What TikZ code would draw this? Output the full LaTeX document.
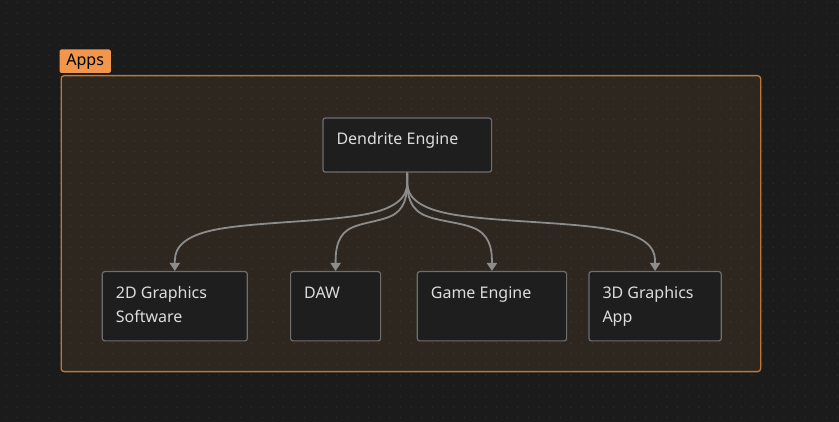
\documentclass[tikz,border=0pt]{standalone}
\usepackage{fontspec}
\setmainfont{Noto Sans}
\usetikzlibrary{arrows.meta, positioning, calc}
\definecolor{bgDark}{HTML}{1B1B1B}
\definecolor{groupFill}{HTML}{2D2720}
\definecolor{groupLine}{HTML}{BD773C}
\definecolor{labelFill}{HTML}{F2964C}
\definecolor{nodeFill}{HTML}{1E1E1E}
\definecolor{nodeLine}{HTML}{6E6E6E}
\definecolor{nodeText}{HTML}{DCDCDC}
\definecolor{linkGray}{HTML}{8C8C8C}

\begin{document}
\begin{tikzpicture}[x=1pt, y=-1pt,
    box/.style={draw=nodeLine, fill=nodeFill, rounded corners=2.5pt, line width=1.2pt,
        inner sep=0pt, anchor=north west},
    txt/.style={text=nodeText, font=\fontsize{16}{24}\selectfont, align=left,
        inner sep=0pt, anchor=north west},
    link/.style={draw=linkGray, line width=1.8pt, -{Triangle[width=10pt,length=8pt]}}]
    \useasboundingbox (0,0) rectangle (839,422);
    \fill[bgDark] (0,0) rectangle (839,422);

    % Group container
    \node[draw=groupLine, fill=groupFill, rounded corners=3pt, line width=1.3pt, inner sep=0pt,
        anchor=north west, minimum width=699.5pt, minimum height=296pt] (apps) at (60.5,75) {};

    % Dot grid
    \foreach \i in {0,...,78} {
        \foreach \j in {0,...,39} {
            \fill[white, fill opacity=0.07] (6.5+\i*10.65, 2.5+\j*10.65) circle (0.8pt);
        }
    }

    % Group label
    \node[fill=labelFill, rounded corners=2pt, inner sep=0pt, anchor=north west,
        minimum width=51.4pt, minimum height=23.4pt, text=black,
        font=\fontsize{16}{20}\selectfont, text height=11.6pt, text depth=3pt]
        (apps-label) at (59.3,49.3) {Apps};

    % Boxes
    \node[box, minimum width=168.7pt, minimum height=54pt] (dendrite) at (322.3,117.5) {};
    \node[box, minimum width=145pt, minimum height=69.3pt] (g2d) at (101.7,271) {};
    \node[box, minimum width=90pt, minimum height=69.3pt] (daw) at (290,271) {};
    \node[box, minimum width=149.3pt, minimum height=69.3pt] (game) at (416.7,271) {};
    \node[box, minimum width=132.4pt, minimum height=69.3pt] (g3d) at (588.3,271) {};

    % Box texts
    \node[txt] (dendrite-t) at ([xshift=14pt, yshift=-15pt]dendrite.north west) {Dendrite Engine};
    \node[txt] (g2d-t) at ([xshift=14pt, yshift=-15pt]g2d.north west) {2D Graphics\\Software};
    \node[txt] (daw-t) at ([xshift=14pt, yshift=-15.4pt]daw.north west) {DAW};
    \node[txt] (game-t) at ([xshift=14pt, yshift=-15.4pt]game.north west) {Game Engine};
    \node[txt] (g3d-t) at ([xshift=14pt, yshift=-15pt]g3d.north west) {3D Graphics\\App};

    % Links (basis spline through source, two mid-rank bends and target)
    \foreach \t in {g2d, daw, game, g3d} {
        \draw[link] let \p1=(dendrite.south), \p2=(\t.north) in
            (\p1) -- (\x1,{(11*\y1+\y2)/12})
            .. controls (\x1,{(5*\y1+\y2)/6}) and (\x1,{(2*\y1+\y2)/3})
            .. ({(5*\x1+\x2)/6},{(7*\y1+5*\y2)/12})
            .. controls ({(2*\x1+\x2)/3},{(\y1+\y2)/2}) and ({(\x1+2*\x2)/3},{(\y1+\y2)/2})
            .. ({(\x1+5*\x2)/6},{(5*\y1+7*\y2)/12})
            .. controls (\x2,{(\y1+2*\y2)/3}) and (\x2,{(\y1+5*\y2)/6})
            .. (\x2,{(\y1+11*\y2)/12}) -- (\p2);
    }
\end{tikzpicture}
\end{document}
